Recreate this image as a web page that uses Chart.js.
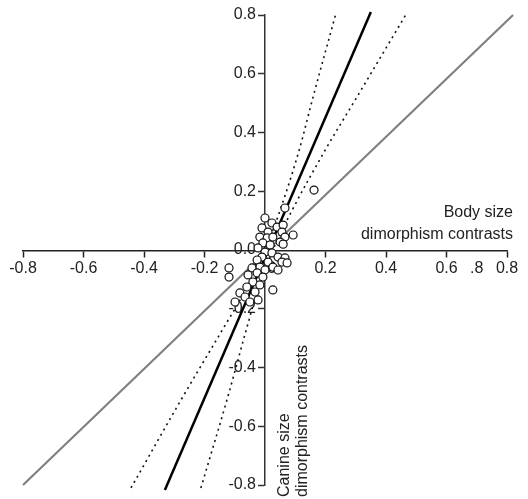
<!DOCTYPE html>
<html>
<head>
<meta charset="utf-8">
<script src="https://cdn.jsdelivr.net/npm/chart.js@4/dist/chart.umd.min.js"></script>
<style>
  html, body { margin: 0; padding: 0; background: #fff; }
  #c { display: block; }
</style>
</head>
<body>
<canvas id="c" width="528" height="499"></canvas>
<script>
// Tick values and labels
const X_TICK_VALUES = [-0.8, -0.6, -0.4, -0.2, 0, 0.2, 0.4, 0.6, 0.7, 0.8];
const X_TICK_LABELS = ['-0.8', '-0.6', '-0.4', '-0.2', '0.0', '0.2', '0.4', '0.6', '.8', '0.8'];
const Y_TICK_VALUES = [-0.8, -0.6, -0.4, -0.2, 0, 0.2, 0.4, 0.6, 0.8];
const Y_TICK_LABELS = ['-0.8', '-0.6', '-0.4', '-0.2', '0.0', '0.2', '0.4', '0.6', '0.8'];

// Contrasts (body size on x, canine size on y)
const bodyContrasts = [0.066, 0.000, 0.023, 0.040, 0.060, -0.010, 0.010, 0.056, -0.017, 0.007, 0.026, 0.066, 0.093, 0.050, -0.007, 0.017, 0.060, -0.023, 0.000, 0.023, 0.043, 0.066, -0.010, -0.026, 0.010, 0.056, 0.073, -0.017, -0.043, 0.000, 0.026, 0.043, -0.026, -0.056, -0.007, -0.119, -0.040, -0.017, -0.060, -0.083, -0.033, 0.026, -0.066, -0.099, -0.023, -0.050, 0.162, -0.119];
const canineContrasts = [0.143, 0.109, 0.092, 0.078, 0.085, 0.075, 0.061, 0.061, 0.044, 0.041, 0.044, 0.044, 0.051, 0.027, 0.024, 0.017, 0.020, 0.007, -0.007, -0.010, -0.024, -0.027, -0.024, -0.034, -0.041, -0.041, -0.044, -0.058, -0.061, -0.068, -0.058, -0.068, -0.078, -0.085, -0.092, -0.092, -0.109, -0.119, -0.126, -0.146, -0.143, -0.136, -0.160, -0.177, -0.170, -0.177, 0.204, -0.061];

// Regression line
const regX = [-0.331, 0.350];
const regY = [-0.817, 0.810];
// Isometry line
const isoX = [-0.80, 0.82];
const isoY = [-0.80, 0.80];
// Confidence band (upper / left)
const ciUpperX = [-0.443, -0.278, -0.141, -0.064, 0.000, 0.050, 0.113, 0.159, 0.233];
const ciUpperY = [-0.810, -0.511, -0.272, -0.136, 0.000, 0.136, 0.340, 0.521, 0.800];
// Confidence band (lower / right)
const ciLowerX = [-0.212, -0.126, -0.062, -0.024, 0.026, 0.090, 0.199, 0.304, 0.465];
const ciLowerY = [-0.810, -0.511, -0.272, -0.136, 0.000, 0.136, 0.340, 0.521, 0.800];

const zip = (xs, ys) => xs.map((x, i) => ({ x: x, y: ys[i] }));

const FONT = 'Liberation Sans, Arial, sans-serif';
const TXT = '#222';

const titlesPlugin = {
  id: 'axisTitles',
  afterDraw(chart) {
    const ctx = chart.ctx;
    const xs = chart.scales.x, ys = chart.scales.y;
    ctx.save();
    ctx.fillStyle = TXT;
    ctx.font = '16px ' + FONT;
    ctx.textAlign = 'right';
    ctx.textBaseline = 'middle';
    const rx = xs.getPixelForValue(0.8) + 6;
    const y0 = ys.getPixelForValue(0);
    ctx.fillText('Body size', rx, y0 - 37);
    ctx.fillText('dimorphism contrasts', rx, y0 - 15);
    const x0 = xs.getPixelForValue(0);
    const by = ys.getPixelForValue(-0.8) + 12;
    ctx.translate(x0 + 20, by);
    ctx.rotate(-Math.PI / 2);
    ctx.textAlign = 'left';
    ctx.fillText('Canine size', 0, 0);
    ctx.fillText('dimorphism contrasts', 0, 18);
    ctx.restore();
  }
};

const bandStyle = {
  showLine: true,
  pointRadius: 0,
  borderColor: '#111',
  borderWidth: 1.6,
  borderDash: [2, 4],
  cubicInterpolationMode: 'monotone',
  clip: false
};

new Chart(document.getElementById('c'), {
  type: 'scatter',
  data: {
    datasets: [
      {
        label: 'contrasts',
        data: zip(bodyContrasts, canineContrasts),
        pointRadius: 4,
        pointBorderWidth: 1.2,
        pointBorderColor: '#111',
        pointBackgroundColor: '#fff',
        showLine: false
      },
      {
        label: 'regression',
        data: zip(regX, regY),
        showLine: true,
        pointRadius: 0,
        borderColor: '#000',
        borderWidth: 2.5,
        clip: false
      },
      Object.assign({ label: 'ci upper', data: zip(ciUpperX, ciUpperY) }, bandStyle),
      Object.assign({ label: 'ci lower', data: zip(ciLowerX, ciLowerY) }, bandStyle),
      {
        label: 'isometry',
        data: zip(isoX, isoY),
        showLine: true,
        pointRadius: 0,
        borderColor: '#808080',
        borderWidth: 2.2,
        clip: false
      }
    ]
  },
  options: {
    responsive: false,
    animation: false,
    events: [],
    layout: { padding: { left: 23, right: 21, top: 15, bottom: 14 } },
    plugins: { legend: { display: false }, tooltip: { enabled: false } },
    scales: {
      x: {
        type: 'linear',
        position: 'center',
        min: -0.8, max: 0.8,
        afterBuildTicks: (s) => { s.ticks = X_TICK_VALUES.map(v => ({ value: v })); },
        ticks: {
          autoSkip: false, maxRotation: 0, padding: 3,
          color: TXT, font: { family: FONT, size: 16 },
          callback: (v, i) => X_TICK_LABELS[i]
        },
        grid: {
          drawOnChartArea: false, drawTicks: true, tickLength: 6, tickWidth: 1.5,
          tickColor: (c) => (c.tick && c.tick.value === 0.7) ? 'rgba(0,0,0,0)' : '#222'
        },
        border: { display: true, color: '#222', width: 1.5 }
      },
      y: {
        type: 'linear',
        position: 'center',
        min: -0.8, max: 0.8,
        afterBuildTicks: (s) => { s.ticks = Y_TICK_VALUES.map(v => ({ value: v })); },
        ticks: {
          autoSkip: false, padding: 3,
          color: TXT, font: { family: FONT, size: 16 },
          callback: (v, i) => Y_TICK_LABELS[i]
        },
        grid: { drawOnChartArea: false, drawTicks: true, tickLength: 6, tickWidth: 1.5, tickColor: '#333' },
        border: { display: true, color: '#333', width: 1.5 }
      }
    }
  },
  plugins: [titlesPlugin]
});
</script>
</body>
</html>
